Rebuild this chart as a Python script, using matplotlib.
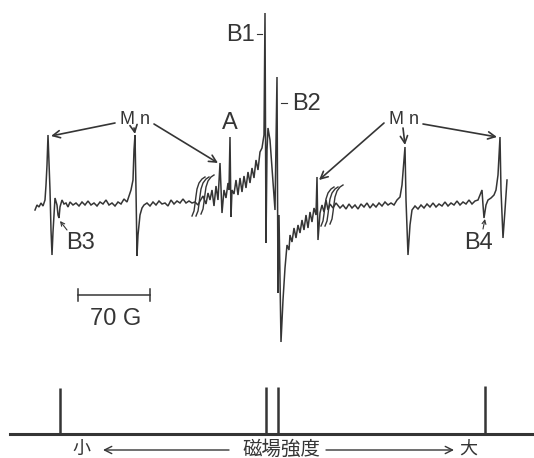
import matplotlib.pyplot as plt

# spectrum trace (x = field, y = signal; picture units, y grows downwards)
trace_x = [35, 37, 39, 41, 43, 45, 46, 47, 48, 50, 51, 52, 53, 55, 57, 58, 59, 60, 62, 64,
           66, 68, 70, 73, 76, 79, 82, 85, 88, 91, 94, 97, 100, 103, 106, 109, 112, 115, 118, 121,
           124, 127, 129, 131, 133, 134, 135, 136, 137, 138, 140, 142, 144, 147, 150, 153, 156, 159, 162, 165,
           168, 171, 174, 177, 180, 183, 186, 189, 192, 195, 198, 200, 203, 206, 208, 210, 212, 214, 216, 218,
           220, 222, 224, 226, 228, 229, 230, 231, 232, 234, 236, 238, 240, 242, 244, 246, 248, 250, 252, 254,
           256, 258, 260, 262, 264, 265, 266, 267, 268, 270, 275, 277, 278, 279, 281, 283, 285, 287, 289, 290,
           292, 294, 296, 298, 300, 302, 304, 306, 308, 310, 312, 314, 316, 317, 318, 320, 322, 324, 326, 328,
           330, 333, 336, 340, 343, 346, 349, 352, 355, 358, 361, 364, 367, 370, 373, 376, 379, 382, 385, 388,
           391, 394, 397, 400, 402, 404, 405, 406, 408, 410, 412, 415, 418, 421, 424, 427, 430, 433, 436, 439,
           442, 445, 448, 451, 454, 457, 460, 463, 466, 469, 472, 475, 478, 480, 482, 483, 484, 486, 488, 491,
           494, 496, 498, 500, 501, 503, 505, 507]
trace_y = [210, 205, 207, 203, 206, 200, 185, 165, 135, 190, 230, 255, 232, 198, 205, 215, 218, 207, 200, 204,
           203, 207, 202, 205, 203, 206, 202, 205, 201, 205, 203, 206, 202, 204, 200, 205, 203, 206, 202, 204,
           199, 202, 196, 190, 180, 150, 135, 190, 256, 235, 215, 208, 205, 203, 206, 202, 205, 201, 204, 203,
           206, 200, 204, 201, 203, 199, 203, 201, 203, 202, 205, 201, 196, 204, 193, 200, 190, 206, 186, 200,
           163, 213, 190, 198, 183, 190, 137, 217, 190, 194, 180, 195, 178, 192, 176, 188, 172, 183, 168, 178,
           160, 170, 152, 148, 135, 13, 243, 150, 128, 140, 210, 77, 293, 215, 342, 300, 268, 245, 250, 235,
           242, 228, 238, 225, 233, 220, 230, 215, 228, 212, 222, 208, 215, 177, 240, 213, 205, 212, 200, 210,
           204, 208, 203, 208, 205, 209, 204, 208, 205, 209, 204, 207, 203, 208, 204, 207, 203, 206, 202, 205,
           203, 205, 200, 197, 185, 160, 147, 200, 255, 225, 210, 206, 209, 205, 208, 204, 207, 203, 207, 204,
           206, 202, 206, 203, 205, 201, 205, 202, 204, 200, 204, 201, 200, 195, 190, 205, 218, 205, 200, 198,
           195, 190, 175, 137, 190, 238, 210, 180]

# stick diagram under the spectrum
stick_x = [60, 266, 278, 485]
stick_top = [388, 387, 387, 386]

ink = '#353535'
fam = ['Liberation Sans', 'Noto Sans CJK JP', 'DejaVu Sans']

fig = plt.figure(figsize=(5.34, 4.58), dpi=100)
ax = fig.add_axes([0, 0, 1, 1])
ax.set_xlim(0, 534)
ax.set_ylim(458, 0)
ax.axis('off')

ax.plot(trace_x, trace_y, color=ink, lw=1.1, solid_joinstyle='miter')

# wavy break marks
s_dx = [0, 2, 3, 4, 5, 7, 10, 13]
s_dy = [0, -5, -12, -20, -27, -33, -37, -39]
for x0, y0 in [(192, 216), (196, 216), (201, 214), (321, 226), (325, 226), (330, 224)]:
    ax.plot([x0 + d for d in s_dx], [y0 + d for d in s_dy], color=ink, lw=1.0)

# labels
arr = dict(arrowstyle='->', color=ink, lw=1.2, mutation_scale=13, shrinkA=0, shrinkB=0)
for lx, targets in [(135, [(51, 136), (135, 134), (218, 163)]),
                    (404, [(319, 180), (405, 145), (497, 137)])]:
    ax.text(lx, 120, 'M n', ha='center', va='center', fontsize=13, color=ink, family=fam)
    starts = [(lx - 20, 123), (lx - 1, 128), (lx + 19, 124)]
    for s, t in zip(starts, targets):
        ax.annotate('', xy=t, xytext=s, arrowprops=arr)

ax.text(240, 35, 'B1', ha='center', va='center', fontsize=17, color=ink, family=fam)
ax.plot([257, 262], [34, 34], color=ink, lw=0.8)
ax.text(306, 104, 'B2', ha='center', va='center', fontsize=17, color=ink, family=fam)
ax.plot([281, 287], [103, 103], color=ink, lw=0.8)
ax.text(230, 123, 'A', ha='center', va='center', fontsize=17, color=ink, family=fam)
ax.text(81, 243, 'B3', ha='center', va='center', fontsize=17, color=ink, family=fam)
ax.annotate('', xy=(60, 221), xytext=(67, 230), arrowprops=dict(arr, lw=0.8, mutation_scale=7))
ax.text(479, 243, 'B4', ha='center', va='center', fontsize=17, color=ink, family=fam)
ax.annotate('', xy=(485, 219), xytext=(483, 229), arrowprops=dict(arr, lw=0.8, mutation_scale=7))

# 70 G scale bar
ax.plot([78, 150], [295, 295], color=ink, lw=1.1)
ax.plot([78, 78], [289, 301], color=ink, lw=1.1)
ax.plot([150, 150], [289, 301], color=ink, lw=1.1)
ax.text(116, 319, '70 G', ha='center', va='center', fontsize=17, color=ink, family=fam)

# stick diagram
ax.plot([10, 534], [434, 434], color=ink, lw=2.2)
ax.vlines(stick_x, stick_top, 434, color=ink, lw=1.8)

ax.text(81, 449, '小', ha='center', va='center', fontsize=13, color=ink, family=fam)
ax.annotate('', xy=(103, 450), xytext=(229, 450), arrowprops=dict(arr, lw=1.0))
ax.text(281, 449, '磁場強度', ha='center', va='center', fontsize=14, color=ink, family=fam)
ax.annotate('', xy=(454, 450), xytext=(326, 450), arrowprops=dict(arr, lw=1.0))
ax.text(468, 449, '大', ha='center', va='center', fontsize=13, color=ink, family=fam)

fig.savefig('out.png', dpi=100)
